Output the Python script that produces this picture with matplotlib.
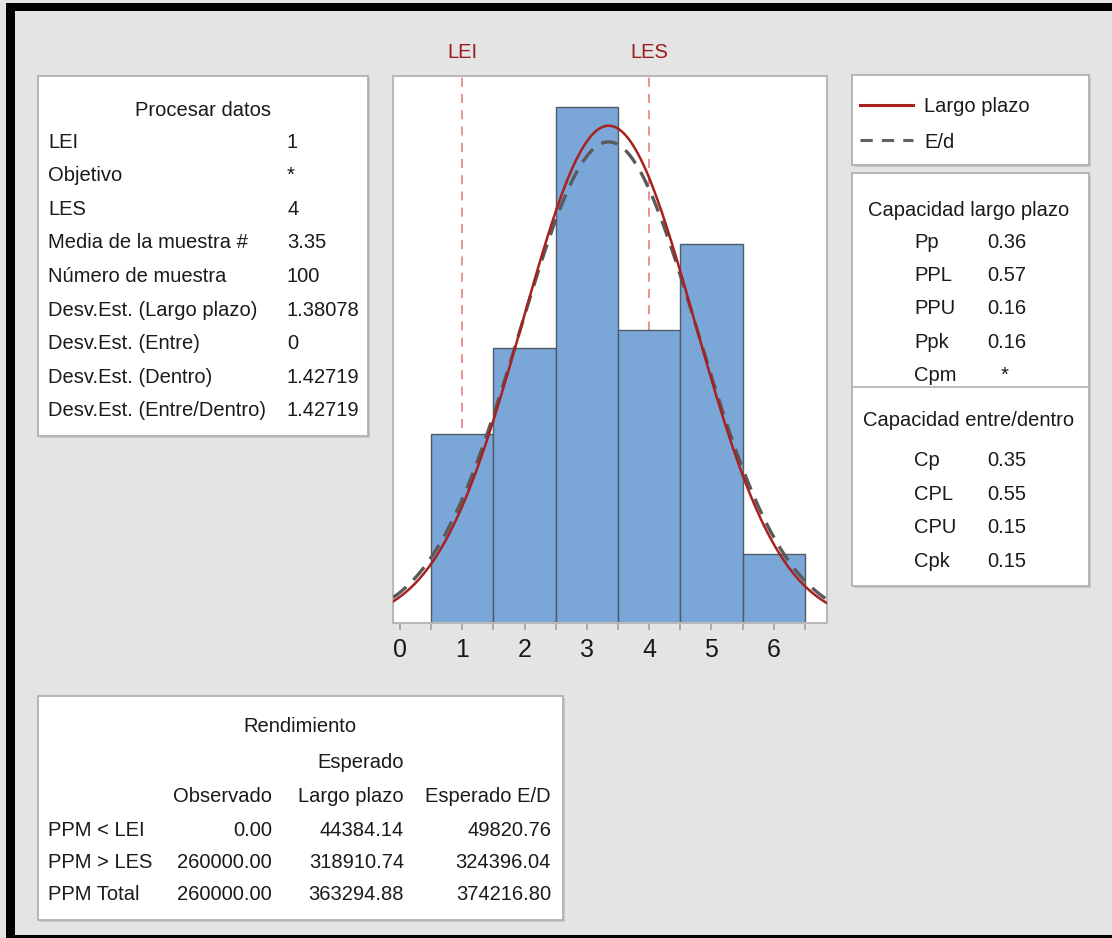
import numpy as np
import matplotlib.pyplot as plt
from matplotlib.patches import Rectangle
from matplotlib.lines import Line2D

plt.rcParams['font.family'] = ['Liberation Sans', 'DejaVu Sans']

# datos del proceso
valores = [1, 2, 3, 4, 5, 6]
frecuencias = [11, 16, 30, 17, 22, 4]
lei, les = 1, 4
n = 100
media = 3.35
de_largo = 1.38078
de_dentro = 1.42719

datos_etiquetas = ["LEI", "Objetivo", "LES", "Media de la muestra #", "Número de muestra",
                   "Desv.Est. (Largo plazo)", "Desv.Est. (Entre)", "Desv.Est. (Dentro)",
                   "Desv.Est. (Entre/Dentro)"]
datos_valores = ["1", "*", "4", "3.35", "100", "1.38078", "0", "1.42719", "1.42719"]

cap_largo_etiq = ["Pp", "PPL", "PPU", "Ppk", "Cpm"]
cap_largo_val = ["0.36", "0.57", "0.16", "0.16", "*"]
cap_dentro_etiq = ["Cp", "CPL", "CPU", "Cpk"]
cap_dentro_val = ["0.35", "0.55", "0.15", "0.15"]

rend_filas = ["PPM < LEI", "PPM > LES", "PPM Total"]
rend_observado = ["0.00", "260000.00", "260000.00"]
rend_largo = ["44384.14", "318910.74", "363294.88"]
rend_ed = ["49820.76", "324396.04", "374216.80"]

W, H = 1112, 938
fig = plt.figure(figsize=(W / 100, H / 100), dpi=100, facecolor='#e4e4e4')

# capa de fondo en pixeles para cajas y textos
bg = fig.add_axes([0, 0, 1, 1], zorder=0)
bg.set_xlim(0, W)
bg.set_ylim(H, 0)
bg.axis('off')

# marco negro
bg.add_patch(Rectangle((6, 3), 9, H, color='black', lw=0))
bg.add_patch(Rectangle((6, 3), W, 8, color='black', lw=0))
bg.add_patch(Rectangle((6, 935), W, 5, color='black', lw=0))

def caja(x0, y0, x1, y1):
    bg.add_patch(Rectangle((x0 + 2, y0 + 2), x1 - x0, y1 - y0, facecolor='#c8c8c8', lw=0))
    bg.add_patch(Rectangle((x0, y0), x1 - x0, y1 - y0, facecolor='white',
                           edgecolor='#b0b0b0', lw=1.3))

fs = 14.5
tc = '#1a1a1a'
va = 'center_baseline'

# Procesar datos
caja(38, 76, 368, 436)
bg.text(203, 108, "Procesar datos", ha='center', va=va, fontsize=fs, color=tc)
for i, (e, v) in enumerate(zip(datos_etiquetas, datos_valores)):
    y = 140 + i * 33.6
    bg.text(48, y, e, ha='left', va=va, fontsize=fs, color=tc)
    bg.text(287, y, v, ha='left', va=va, fontsize=fs, color=tc)

# leyenda
caja(852, 75, 1089, 165)
bg.add_line(Line2D([860, 913], [105, 105], color='#a8201f', lw=2.2))
bg.add_line(Line2D([860, 913], [140, 140], color='#606060', lw=2.2, dashes=(4, 3)))
bg.text(924, 105, "Largo plazo", ha='left', va=va, fontsize=fs, color=tc)
bg.text(924, 140, "E/d", ha='left', va=va, fontsize=fs, color=tc)

# capacidad
caja(852, 173, 1089, 586)
bg.add_line(Line2D([852, 1089], [387, 387], color='#b0b0b0', lw=1.2))
bg.text(969, 208, "Capacidad largo plazo", ha='center', va=va, fontsize=fs, color=tc)
for i, (e, v) in enumerate(zip(cap_largo_etiq, cap_largo_val)):
    y = 240 + i * 33.4
    bg.text(914, y, e, ha='left', va=va, fontsize=fs, color=tc)
    bg.text(1001 if v == "*" else 987, y, v, ha='left', va=va, fontsize=fs, color=tc)
bg.text(969, 418, "Capacidad entre/dentro", ha='center', va=va, fontsize=fs, color=tc)
for i, (e, v) in enumerate(zip(cap_dentro_etiq, cap_dentro_val)):
    y = 459 + i * 33.4
    bg.text(914, y, e, ha='left', va=va, fontsize=fs, color=tc)
    bg.text(987, y, v, ha='left', va=va, fontsize=fs, color=tc)

# rendimiento
caja(38, 696, 563, 920)
bg.text(300, 725, "Rendimiento", ha='center', va=va, fontsize=fs, color=tc)
bg.text(404, 760, "Esperado", ha='right', va=va, fontsize=fs, color=tc)
for x, t in zip([272, 404, 551], ["Observado", "Largo plazo", "Esperado E/D"]):
    bg.text(x, 794, t, ha='right', va=va, fontsize=fs, color=tc)
for i, fila in enumerate(rend_filas):
    y = 828 + i * 32.5
    bg.text(48, y, fila, ha='left', va=va, fontsize=fs, color=tc)
    for x, col in zip([272, 404, 551], [rend_observado, rend_largo, rend_ed]):
        bg.text(x, y, col[i], ha='right', va=va, fontsize=fs, color=tc)

# histograma
ax = fig.add_axes([393.3 / W, 1 - 623 / H, 433.4 / W, 547 / H], zorder=2)
ax.set_facecolor('white')
ax.set_xlim(-0.107, 6.85)
ax.set_ylim(0, 31.78)

ax.axvline(lei, color='#e58a8a', lw=1.3, ls=(0, (5, 4)), zorder=1)
ax.axvline(les, color='#e58a8a', lw=1.3, ls=(0, (5, 4)), zorder=1)
ax.bar(valores, frecuencias, width=1.0, color='#7ba6d8', edgecolor='#4e5b68',
       lw=1.0, zorder=2)

xs = np.linspace(-0.107, 6.85, 400)
def normal(x, m, s):
    return n * np.exp(-0.5 * ((x - m) / s) ** 2) / (s * np.sqrt(2 * np.pi))
ax.plot(xs, normal(xs, media, de_dentro), color='#5a5a5a', lw=2.4,
        dashes=(5, 3), zorder=3)
ax.plot(xs, normal(xs, media, de_largo), color='#a8201f', lw=1.8, zorder=4)

ax.set_xticks(range(0, 7))
ax.set_xticks(np.arange(0.5, 7, 1), minor=True)
ax.set_yticks([])
ax.tick_params(axis='x', which='both', length=5, color='#a0a0a0', width=1.2,
               labelsize=18, labelcolor=tc, pad=6)
for s in ['top', 'right', 'left', 'bottom']:
    ax.spines[s].set_color('#b8b8b8')
    ax.spines[s].set_linewidth(1.5)

# etiquetas de especificación
for v, t in [(lei, "LEI"), (les, "LES")]:
    ax.text(v, 1.025, t, transform=ax.get_xaxis_transform(), ha='center', va='bottom',
            fontsize=fs, color='#9b1c20')

fig.savefig('out.png', dpi=100, facecolor=fig.get_facecolor())
